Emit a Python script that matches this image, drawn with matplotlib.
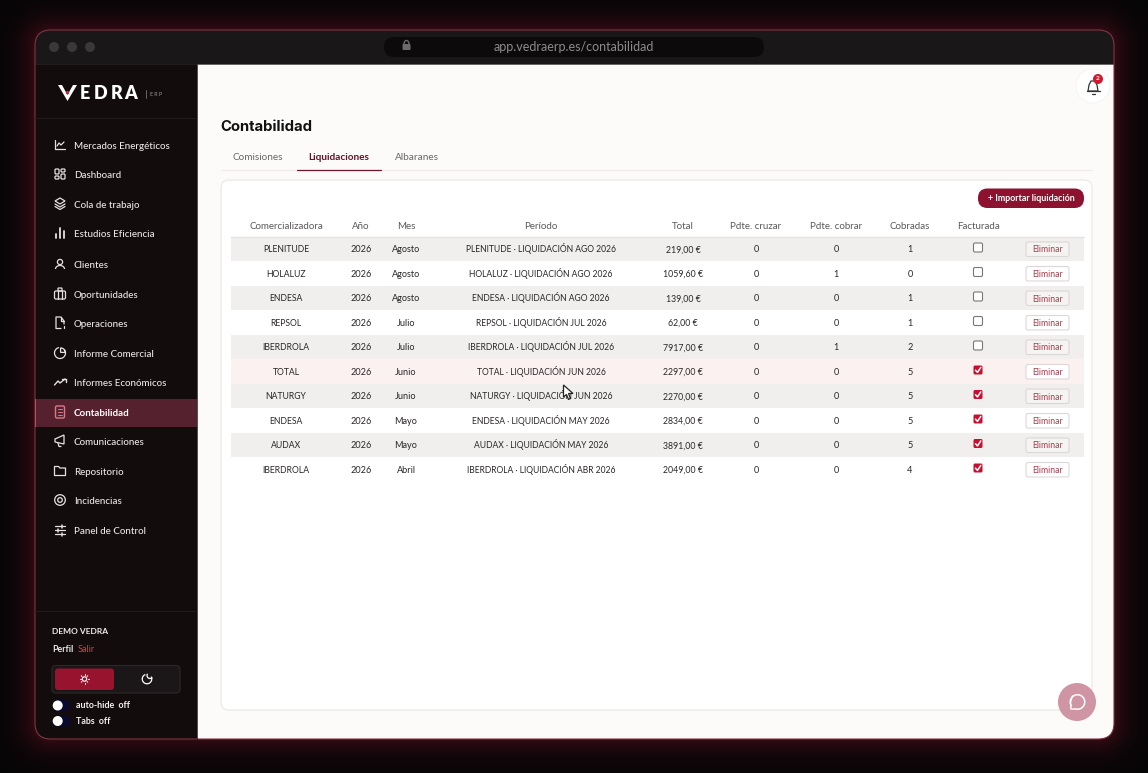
import numpy as np
import matplotlib
matplotlib.use("Agg")
import matplotlib.pyplot as plt
from matplotlib.patches import FancyBboxPatch, Circle, Rectangle, Polygon, Arc, Wedge

plt.rcParams['font.family'] = ['Lato', 'DejaVu Sans']

# ---------- data ----------
comercializadoras = ["PLENITUDE", "HOLALUZ", "ENDESA", "REPSOL", "IBERDROLA", "TOTAL", "NATURGY", "ENDESA", "AUDAX", "IBERDROLA"]
anios = [2026] * 10
meses = ["Agosto", "Agosto", "Agosto", "Julio", "Julio", "Junio", "Junio", "Mayo", "Mayo", "Abril"]
meses_abrev = ["AGO", "AGO", "AGO", "JUL", "JUL", "JUN", "JUN", "MAY", "MAY", "ABR"]
totales = ["219,00 €", "1059,60 €", "139,00 €", "62,00 €", "7917,00 €", "2297,00 €", "2270,00 €", "2834,00 €", "3891,00 €", "2049,00 €"]
pdte_cruzar = [0, 0, 0, 0, 0, 0, 0, 0, 0, 0]
pdte_cobrar = [0, 1, 0, 0, 1, 0, 0, 0, 0, 0]
cobradas = [1, 0, 1, 1, 2, 5, 5, 5, 5, 4]
facturada = [False, False, False, False, False, True, True, True, True, True]
cabeceras = ["Comercializadora", "Año", "Mes", "Período", "Total", "Pdte. cruzar", "Pdte. cobrar", "Cobradas", "Facturada"]
menu = ["Mercados Energéticos", "Dashboard", "Cola de trabajo", "Estudios Eficiencia", "Clientes", "Oportunidades",
        "Operaciones", "Informe Comercial", "Informes Económicos", "Contabilidad", "Comunicaciones", "Repositorio",
        "Incidencias", "Panel de Control"]
menu_y = [146, 175, 205, 234, 265, 295, 324, 354, 383, 413, 442, 472, 501, 531]
pestanas = ["Comisiones", "Liquidaciones", "Albaranes"]

W, H = 1148, 773
fig = plt.figure(figsize=(W / 100, H / 100), dpi=100)
ax = fig.add_axes([0, 0, 1, 1])
ax.axis("off")

# ---------- glow ----------
L, T, R, B = 35, 30, 1114, 739
yy, xx = np.mgrid[0:H, 0:W] + 0.5
rad = 16
dx = np.maximum(np.abs(xx - (L + R) / 2) - ((R - L) / 2 - rad), 0)
dy = np.maximum(np.abs(yy - (T + B) / 2) - ((B - T) / 2 - rad), 0)
d = np.maximum(np.hypot(dx, dy) - rad, 0)
k = np.exp(-d / 14.0)[..., None]
bgc = np.array([5, 5, 6]) / 255
glc = np.array([52, 11, 20]) / 255
ax.imshow(bgc + (glc - bgc) * k, extent=(0, W, H, 0), aspect="auto", zorder=0, interpolation="bilinear")
ax.set_xlim(0, W)
ax.set_ylim(H, 0)


def rrect(x0, y0, x1, y1, r, fc, ec="none", lw=0, z=2, **kw):
    p = FancyBboxPatch((x0, y0), x1 - x0, y1 - y0, boxstyle=f"round,pad=0,rounding_size={r}",
                       fc=fc, ec=ec, lw=lw, zorder=z, **kw)
    ax.add_patch(p)
    return p


def txt(x, y, s, size, c="#222", w="normal", ha="center", z=6, **kw):
    return ax.text(x, y + 1, s, fontsize=size, color=c, fontweight=w, ha=ha, va="center", zorder=z, **kw)


def cell(x, y, s, size, c="#2a2627"):
    # baseline-aligned so accents and descenders do not move the row's text
    return ax.text(x, y + 3.2, s, fontsize=size, color=c, ha="center", va="baseline", zorder=6)


def ln(xs, ys, c, lw=0.9, z=5):
    ax.plot(xs, ys, color=c, lw=lw, zorder=z, solid_capstyle="round", solid_joinstyle="round")


# ---------- window ----------
frame = rrect(L, T, R, B, rad, "#120c0d", z=1)
clip = rrect(L, T, R, B, rad, "none", z=1)
bar = Rectangle((L, T), R - L, 34, fc="#1a1718", zorder=2)
ax.add_patch(bar); bar.set_clip_path(clip)
cont = Rectangle((197, 64), R - 197, B - 64, fc="#fdfbfa", zorder=2)
ax.add_patch(cont); cont.set_clip_path(clip)
rrect(L, T, R, B, rad, "none", ec="#7d3641", lw=0.8, z=3)
ln([197, 197], [64, 739], "#0c0809", 0.5, 3)
ln([L + 1, R - 1], [63.7, 63.7], "#2a2627", 0.5, 3)
for x in [54, 72, 90]:
    ax.add_patch(Circle((x, 47), 5, fc="#3a3839", zorder=4))
rrect(384, 37, 764, 57, 10, "#0d0a0b", z=4)
txt(574, 46, "app.vedraerp.es/contabilidad", 9.0, "#8f8b8c")
rrect(402.5, 44, 410.5, 50, 1, "#6e6a6b", z=5)
ax.add_patch(Arc((406.5, 44), 5, 7, theta1=180, theta2=360, ec="#6e6a6b", lw=1, zorder=5))

# ---------- logo ----------
ax.add_patch(Polygon([(58, 85), (62, 85), (67.5, 95), (73, 85), (77, 85), (67.5, 101)], fc="white", zorder=5))
ax.add_patch(Circle((67.5, 92.5), 1.7, fc="#c8243c", zorder=6))
for ch, x in zip("EDRA", [80, 94, 111, 124]):
    txt(x, 92.5, ch, 13, "white", "heavy", ha="left")
ln([146, 146], [90, 98], "#6a6667", 0.7)
txt(150, 93.5, "E R P", 3.9, "#777374", "bold", ha="left")
ln([35, 195], [118, 118], "#211b1c", 0.8, 3)
ln([35, 195], [611, 611], "#211b1c", 0.8, 3)

# ---------- menu ----------
IC = "#e6e2e2"


def icon(i, cx, cy, c=IC):
    lw = 0.9
    if i == 0:
        ln([cx - 5, cx - 5, cx + 5], [cy - 5, cy + 4, cy + 4], c, lw)
        ln([cx - 3, cx - 1, cx + 1, cx + 4], [cy + 1, cy - 2, cy, cy - 3], c, lw)
    elif i == 1:
        for a, b, hh in [(-5, -5, 5), (1, -5, 3), (-5, 2, 3), (1, 0, 5)]:
            rrect(cx + a, cy + b, cx + a + 4, cy + b + hh, 1, "none", ec=c, lw=lw, z=5)
    elif i == 2:
        ax.add_patch(Polygon([(cx - 5, cy - 3), (cx, cy - 6), (cx + 5, cy - 3), (cx, cy)], fc="none", ec=c, lw=lw, zorder=5))
        ln([cx - 5, cx, cx + 5], [cy, cy + 3, cy], c, lw)
        ln([cx - 5, cx, cx + 5], [cy + 2.5, cy + 5.5, cy + 2.5], c, lw)
    elif i == 3:
        for a, t in [(-4, 1), (0, -5), (4, -2)]:
            ln([cx + a, cx + a], [cy + t, cy + 5], c, 1.3)
    elif i == 4:
        ax.add_patch(Circle((cx, cy - 2), 2.6, fc="none", ec=c, lw=lw, zorder=5))
        ax.add_patch(Arc((cx, cy + 5), 9, 7, theta1=180, theta2=360, ec=c, lw=lw, zorder=5))
    elif i == 5:
        rrect(cx - 5.5, cy - 3, cx + 5.5, cy + 5, 1.5, "none", ec=c, lw=lw, z=5)
        rrect(cx - 2, cy - 6, cx + 2, cy - 3, 0.7, "none", ec=c, lw=lw, z=5)
        ln([cx - 2, cx - 2], [cy - 3, cy + 5], c, lw)
        ln([cx + 2, cx + 2], [cy - 3, cy + 5], c, lw)
    elif i == 6:
        ln([cx + 4, cx + 4, cx + 1, cx - 4, cx - 4, cx + 1], [cy + 1, cy - 2, cy - 6, cy - 6, cy + 5.5, cy + 5.5], c, lw)
        ln([cx + 1, cx + 1, cx + 4], [cy - 6, cy - 2, cy - 2], c, lw)
        ln([cx + 4, cx + 4], [cy + 3, cy + 5], c, lw)
    elif i == 7:
        ax.add_patch(Arc((cx, cy), 11, 11, theta1=-40, theta2=260, ec=c, lw=lw, zorder=5))
        ax.add_patch(Wedge((cx + .6, cy - .6), 4.5, -90, 0, fc="none", ec=c, lw=lw, zorder=5))
    elif i == 8:
        ln([cx - 5.5, cx - 2, cx, cx + 5], [cy + 3, cy - 1, cy + 1, cy - 3], c, 1.0)
        ln([cx + 2, cx + 5.5, cx + 5.5], [cy - 3.5, cy - 3.5, cy], c, 1.0)
    elif i == 9:
        rrect(cx - 4.5, cy - 6, cx + 4.5, cy + 6, 1.5, "none", ec=c, lw=1.0, z=5)
        for o in (-3, 0, 3):
            ln([cx - 2.3, cx + 2.3], [cy + o, cy + o], c, 0.7)
    elif i == 10:
        ax.add_patch(Polygon([(cx - 5, cy - 2), (cx + 4, cy - 6), (cx + 4, cy + 3), (cx - 5, cy + 1)], fc="none", ec=c, lw=lw, zorder=5))
        ln([cx - 2, cx - 1, cx + 1], [cy + 2, cy + 5.5, cy + 5.5], c, lw)
    elif i == 11:
        ax.add_patch(Polygon([(cx - 5.5, cy - 4.5), (cx - 1.5, cy - 4.5), (cx, cy - 3), (cx + 5.5, cy - 3),
                              (cx + 5.5, cy + 4.5), (cx - 5.5, cy + 4.5)], fc="none", ec=c, lw=lw, zorder=5))
    elif i == 12:
        ax.add_patch(Circle((cx, cy), 5.3, fc="none", ec=c, lw=lw, zorder=5))
        ax.add_patch(Circle((cx, cy), 2.3, fc="none", ec=c, lw=lw, zorder=5))
    elif i == 13:
        for o, m in [(-4, 1.5), (0, -2), (4, 2)]:
            ln([cx - 5, cx + 5], [cy + o, cy + o], c, 0.9)
            ln([cx + m, cx + m], [cy + o - 1.5, cy + o + 1.5], c, 1.1)


act = 9
ax.add_patch(Rectangle((35.5, 399), 161, 28, fc="#55212f", zorder=3))
ax.add_patch(Rectangle((35, 399), 1.4, 28, fc="#c04a5c", zorder=4))
for i, (m, y) in enumerate(zip(menu, menu_y)):
    on = i == act
    icon(i, 60, y - 1, "#d97a88" if on else IC)
    ax.text(74, y + 3, m, fontsize=7.0, color="white" if on else "#ece8e8",
            fontweight="bold" if on else "medium", ha="left", va="baseline", zorder=6)

# ---------- user block ----------
txt(52, 630, "DEMO VEDRA", 6.0, "#f2eeee", "bold", ha="left")
txt(52, 649, "Perfil", 6.4, "#ece8e8", "bold", ha="left")
txt(78, 649, "Salir", 6.6, "#c04a52", ha="left")
rrect(52, 665.5, 180, 693, 4, "#1b1718", ec="#2c2829", lw=0.8, z=3)
rrect(55, 668.5, 114, 690, 3, "#98132e", z=4)
ax.add_patch(Circle((84.5, 679), 2.2, fc="none", ec="white", lw=0.8, zorder=5))
for a in np.arange(8) * np.pi / 4:
    ln([84.5 + 3.6 * np.cos(a), 84.5 + 4.6 * np.cos(a)], [679 + 3.6 * np.sin(a), 679 + 4.6 * np.sin(a)], "white", 0.7)
ax.add_patch(Arc((147, 679), 9.5, 9.5, theta1=-30, theta2=250, ec="white", lw=0.9, zorder=5))
ax.add_patch(Arc((150, 675.5), 6, 6, theta1=40, theta2=215, ec="white", lw=0.9, zorder=5))
for y, s in [(705.5, "auto-hide  off"), (721, "Tabs  off")]:
    rrect(53, y - 5.5, 70, y + 5.5, 5.5, "#0a0a2e", z=4)
    ax.add_patch(Circle((57.7, y), 5, fc="white", zorder=5))
    txt(76, y - 1, s, 6.4, "#f4f0f0", "bold", ha="left")

# ---------- content header ----------
ax.add_patch(Circle((1093, 86), 17.5, fc="#f8f4f3", zorder=3))
ax.add_patch(Circle((1093, 86), 16.5, fc="white", zorder=4))
ax.add_patch(Polygon([(1088, 91), (1089, 85), (1091, 81), (1095, 81), (1097, 85), (1098, 91)], fc="none", ec="#333", lw=0.9, zorder=5))
ln([1086.5, 1099.5], [91, 91], "#333", 0.9)
ln([1091.5, 1094.5], [93.5, 93.5], "#333", 0.9)
ax.add_patch(Circle((1098, 79), 5, fc="#d0182f", zorder=6))
txt(1098, 78, "2", 4.6, "white", "bold", z=7)
txt(220.5, 126, "Contabilidad", 10.7, "#111", "bold", ha="left", family="Inter")
tab_x = [258, 339, 417]
for i, (t, x) in enumerate(zip(pestanas, tab_x)):
    txt(x, 156, t, 7.2, "#6a1026" if i == 1 else "#6a6667", "bold" if i == 1 else "normal")
ln([221, 1092], [170, 170], "#eeebea", 0.9, 3)
ln([297, 381], [170, 170], "#6a1830", 0.9, 4)

# ---------- card ----------
rrect(221, 180, 1092, 710, 8, "white", ec="#ece9e8", lw=0.9, z=3)
rrect(978, 188.5, 1084, 208, 9.5, "#8c1230", z=4)
txt(1031, 197.5, "+ Importar liquidación", 6.4, "white", "bold")

# ---------- table ----------
col_x = [286, 361, 406, 541, 683, 756, 836, 910, 978]
first_y, step = 249, 24.5
for x, c in zip(col_x, cabeceras):
    ax.text(x, 229, c, fontsize=7.0, color="#5c5859", ha="center", va="baseline", zorder=6)
ln([231, 1084], [236.5, 236.5], "#e6e4e3", 1.0, 4)

for i in range(len(comercializadoras)):
    y = first_y + i * step
    if i % 2 == 0:
        ax.add_patch(Rectangle((231, y - step / 2), 853, step, fc="#f0efee", zorder=3.5))
    elif i == 5:
        ax.add_patch(Rectangle((231, y - step / 2), 853, step, fc="#fbf1f1", zorder=3.5))
    per = f"{comercializadoras[i]} · LIQUIDACIÓN {meses_abrev[i]} {anios[i]}"
    vals = [comercializadoras[i], anios[i], meses[i], per, totales[i], pdte_cruzar[i], pdte_cobrar[i], cobradas[i]]
    sizes = [6.2, 6.6, 6.6, 6.15, 6.3, 6.6, 6.6, 6.6]
    for x, v, fs in zip(col_x, vals, sizes):
        cell(x, y, str(v), fs)
    cy = y - 1.5
    if facturada[i]:
        rrect(973.5, cy - 4.5, 982.5, cy + 4.5, 1.5, "#c8102e", z=5)
        ln([975.5, 977.5, 980.8], [cy + 0.2, cy + 2.4, cy - 2.6], "white", 1.1, 6)
    else:
        rrect(973.5, cy - 4.5, 982.5, cy + 4.5, 1.5, "white", ec="#7a7677", lw=0.8, z=5)
    rrect(1026, y - 7, 1069, y + 7.5, 2, "#f6f3f3" if i % 2 == 0 else "white", ec="#dcd8d8", lw=0.8, z=5)
    txt(1047.5, y, "Eliminar", 6.2, "#a5404f")

# ---------- cursor ----------
ax.add_patch(Polygon([(563.5, 385), (563.5, 397), (566.5, 394.5), (568.5, 399.5), (570.5, 398.5), (568.5, 393.5), (573, 393.5)],
                     fc="white", ec="#222", lw=0.9, zorder=8))

# ---------- chat ----------
ax.add_patch(Circle((1077, 702), 19, fc="#cf95a4", zorder=7))
ax.add_patch(Arc((1077.5, 702), 14.5, 14.5, theta1=-215, theta2=110, ec="white", lw=1.1, zorder=8))
ln([1072.5, 1070.5, 1071, 1075], [696, 702, 709, 709], "white", 1.0, 8)

fig.savefig("out.png", dpi=100)
